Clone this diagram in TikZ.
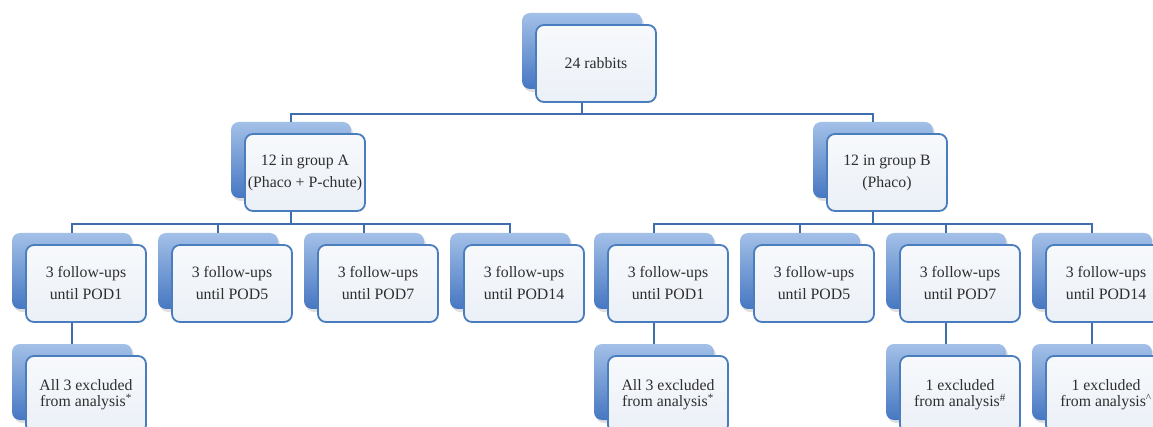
\documentclass[tikz,border=0pt]{standalone}
\usepackage{fontspec}
\setmainfont{Liberation Serif}
\usetikzlibrary{shadows}
\definecolor{backtop}{HTML}{A3C0E7}
\definecolor{backbot}{HTML}{4677C2}
\definecolor{frontline}{HTML}{4A7DBE}
\definecolor{conncol}{HTML}{3F6DAD}
\definecolor{txt}{HTML}{2E2E2E}
\definecolor{fronttop}{HTML}{F7F9FC}
\definecolor{frontbot}{HTML}{EBF0F7}
\tikzset{
 backbox/.style={rectangle, rounded corners=8pt, minimum width=120pt, minimum height=76pt, inner sep=0pt,
   top color=backtop, bottom color=backbot, draw=none,
   drop shadow={shadow xshift=2pt, shadow yshift=-3pt, opacity=0.25}},
 frontbox/.style={rectangle, rounded corners=8pt, minimum width=120pt, minimum height=77pt, inner sep=0pt,
   draw=frontline, line width=1.8pt, top color=fronttop, bottom color=frontbot,
   text=txt, align=center, font=\fontsize{15.8}{22}\selectfont},
 lowbox/.style={frontbox, font=\fontsize{15.8}{16.5}\selectfont},
 conn/.style={draw=conncol, line width=1.8pt},
}
\newcommand\mkbox[5]{%
  \node[backbox] (#1b) at ({#2+60},{#3+38}) {};
  \node[#4] (#1) at ({#2+74},{#3+50.5}) {#5};}
\begin{document}
\begin{tikzpicture}[x=1pt,y=-1pt]
\useasboundingbox[fill=white] (0,0) rectangle (1153,427);
\mkbox{top}{522}{13}{frontbox}{24 rabbits}
\mkbox{A}{231}{122}{frontbox}{12 in group A\\(Phaco + P-chute)}
\mkbox{B}{813}{122}{frontbox}{12 in group B\\(Phaco)}
\mkbox{A1}{12}{233}{frontbox}{3 follow-ups\\until POD1}
\mkbox{A2}{158}{233}{frontbox}{3 follow-ups\\until POD5}
\mkbox{A3}{304}{233}{frontbox}{3 follow-ups\\until POD7}
\mkbox{A4}{450}{233}{frontbox}{3 follow-ups\\until POD14}
\mkbox{B1}{594}{233}{frontbox}{3 follow-ups\\until POD1}
\mkbox{B2}{740}{233}{frontbox}{3 follow-ups\\until POD5}
\mkbox{B3}{886}{233}{frontbox}{3 follow-ups\\until POD7}
\mkbox{B4}{1032}{233}{frontbox}{3 follow-ups\\until POD14}
\mkbox{A1x}{12}{344}{lowbox}{All 3 excluded\\from analysis\textsuperscript{*}}
\mkbox{B1x}{594}{344}{lowbox}{All 3 excluded\\from analysis\textsuperscript{*}}
\mkbox{B3x}{886}{344}{lowbox}{1 excluded\\from analysis\textsuperscript{\#}}
\mkbox{B4x}{1032}{344}{lowbox}{1 excluded\\from analysis\textsuperscript{\textasciicircum}}
\draw[conn] (topb.center |- top.south) -- ++(0,11) -| (Ab.north);
\draw[conn] (topb.center |- top.south) -- ++(0,11) -| (Bb.north);
\foreach \c in {A1,A2,A3,A4}{
  \draw[conn] (Ab.center |- A.south) -- ++(0,12) -| (\c b.north);}
\foreach \c in {B1,B2,B3,B4}{
  \draw[conn] (Bb.center |- B.south) -- ++(0,12) -| (\c b.north);}
\draw[conn] (A1b.center |- A1.south) -- (A1xb.north);
\draw[conn] (B1b.center |- B1.south) -- (B1xb.north);
\draw[conn] (B3b.center |- B3.south) -- (B3xb.north);
\draw[conn] (B4b.center |- B4.south) -- (B4xb.north);
\end{tikzpicture}
\end{document}
